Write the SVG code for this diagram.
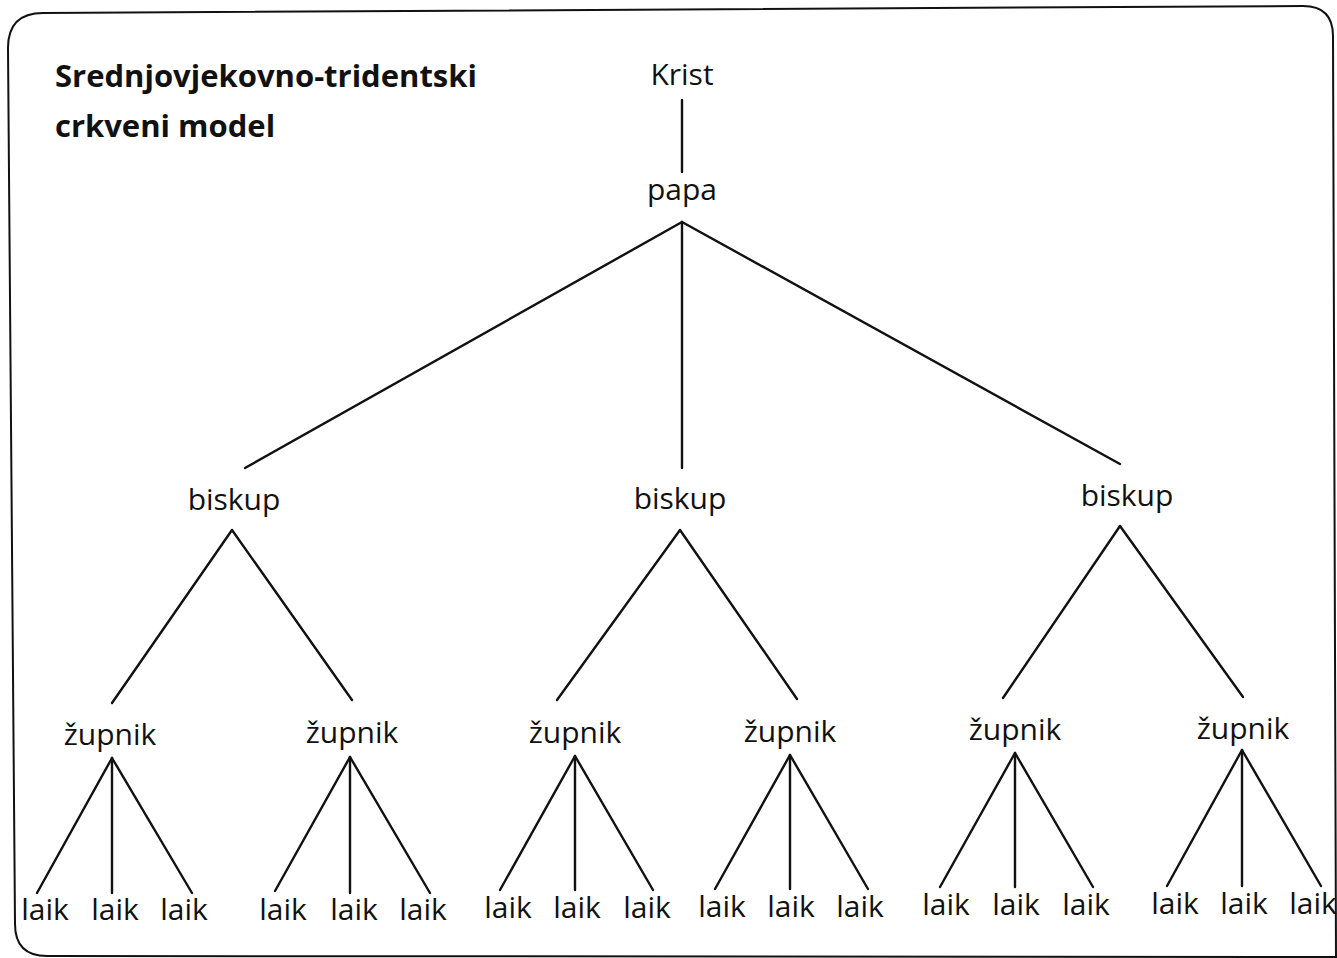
<svg xmlns="http://www.w3.org/2000/svg" width="1337" height="958" viewBox="0 0 1337 958">
<style>
text{font-family:"Open Sans","Noto Sans","DejaVu Sans",sans-serif;font-size:30px;fill:#111;text-anchor:middle}
.title{font-weight:bold;font-size:31px;text-anchor:start}
.c line{stroke:#111;stroke-width:2.4;stroke-linecap:round}
.frame{fill:none;stroke:#111;stroke-width:2}
</style>
<rect width="1337" height="958" fill="#fff"/>
<path class="frame" d="M8,48 Q8,13 43,13 L1303,6 Q1333,6 1333,36 L1336,957 L47,956 Q15,956 15,924 Z"/>
<g id="title"><text class="title" x="55" y="87">Srednjovjekovno-tridentski</text><text class="title" x="55" y="137">crkveni model</text></g>
<g class="c" id="connectors">
<line x1="682" y1="100" x2="682" y2="172"/>
<line x1="682" y1="222" x2="245" y2="468"/>
<line x1="682" y1="222" x2="682" y2="468"/>
<line x1="682" y1="222" x2="1120" y2="464"/>
<line x1="232" y1="530" x2="112" y2="703"/>
<line x1="232" y1="530" x2="352" y2="700"/>
<line x1="680" y1="530" x2="557" y2="700"/>
<line x1="680" y1="530" x2="797" y2="699"/>
<line x1="1120" y1="526" x2="1003" y2="698"/>
<line x1="1120" y1="526" x2="1243" y2="697"/>
<line x1="112" y1="758" x2="37" y2="893"/><line x1="112" y1="758" x2="112" y2="893"/><line x1="112" y1="758" x2="192" y2="893"/>
<line x1="350" y1="757" x2="275" y2="891"/><line x1="350" y1="757" x2="350" y2="893"/><line x1="350" y1="757" x2="430" y2="893"/>
<line x1="575" y1="756" x2="500" y2="890"/><line x1="575" y1="756" x2="575" y2="890"/><line x1="575" y1="756" x2="653" y2="890"/>
<line x1="790" y1="755" x2="715" y2="889"/><line x1="790" y1="755" x2="790" y2="889"/><line x1="790" y1="755" x2="868" y2="889"/>
<line x1="1015" y1="753" x2="940" y2="887"/><line x1="1015" y1="753" x2="1015" y2="887"/><line x1="1015" y1="753" x2="1093" y2="887"/>
<line x1="1242" y1="750" x2="1167" y2="886"/><line x1="1242" y1="750" x2="1242" y2="886"/><line x1="1242" y1="750" x2="1321" y2="886"/>
</g>
<g id="krist"><text x="682" y="85">Krist</text></g>
<g id="papa"><text x="682" y="200">papa</text></g>
<g id="biskup1"><text x="234" y="510">biskup</text></g>
<g id="biskup2"><text x="680" y="509">biskup</text></g>
<g id="biskup3"><text x="1127" y="506">biskup</text></g>
<g id="zupnik1"><text x="110" y="745">župnik</text></g>
<g id="zupnik2"><text x="352" y="743">župnik</text></g>
<g id="zupnik3"><text x="575" y="743">župnik</text></g>
<g id="zupnik4"><text x="790" y="742">župnik</text></g>
<g id="zupnik5"><text x="1015" y="740">župnik</text></g>
<g id="zupnik6"><text x="1243" y="739">župnik</text></g>
<g id="laici">
<text x="45" y="920">laik</text><text x="115" y="920">laik</text><text x="184" y="920">laik</text>
<text x="283" y="920">laik</text><text x="354" y="920">laik</text><text x="423" y="920">laik</text>
<text x="508" y="918">laik</text><text x="577" y="918">laik</text><text x="647" y="918">laik</text>
<text x="722" y="917">laik</text><text x="791" y="917">laik</text><text x="860" y="917">laik</text>
<text x="946" y="915">laik</text><text x="1016" y="915">laik</text><text x="1086" y="915">laik</text>
<text x="1175" y="914">laik</text><text x="1244" y="914">laik</text><text x="1313" y="914">laik</text>
</g>
</svg>
